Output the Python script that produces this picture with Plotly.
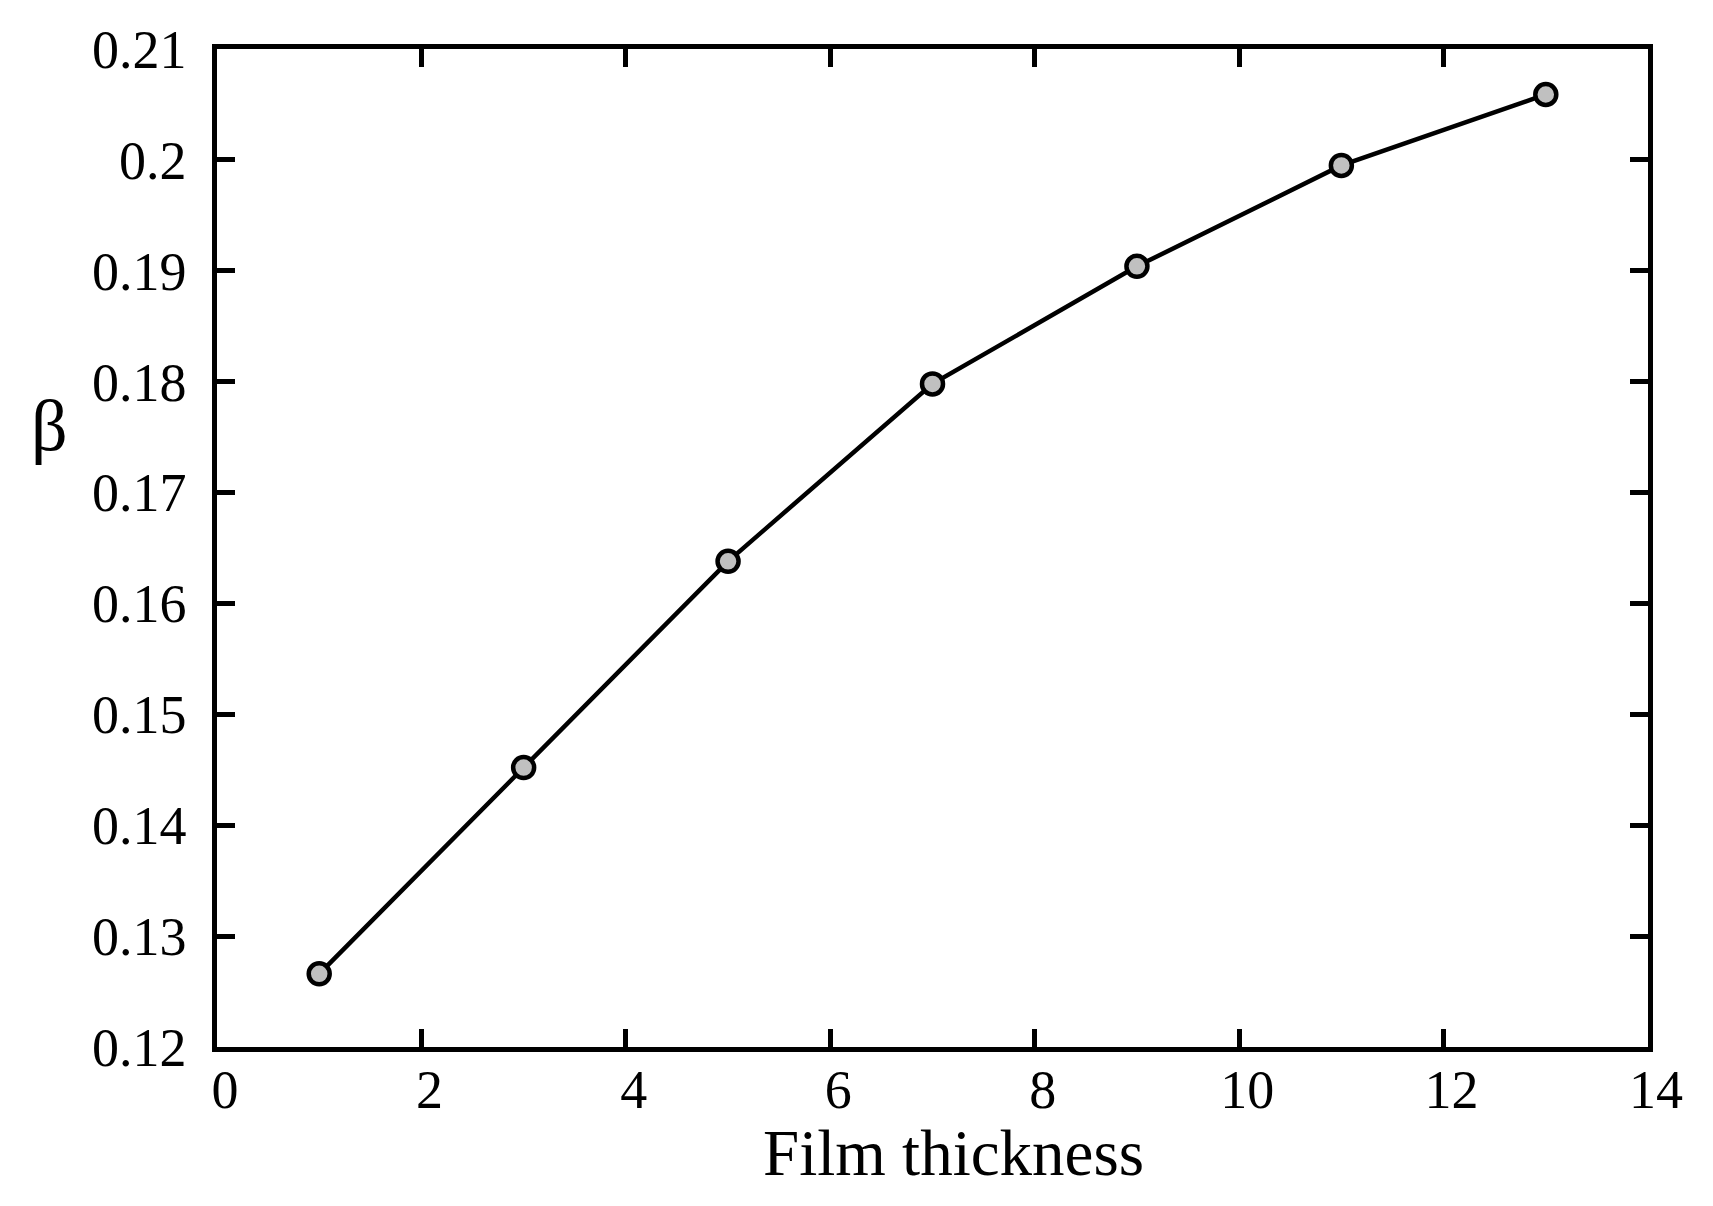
import plotly.graph_objects as go

thickness = [1, 3, 5, 7, 9, 11, 13]
beta = [0.1266, 0.1452, 0.1638, 0.1798, 0.1904, 0.1995, 0.2059]

x_ticks = [0, 2, 4, 6, 8, 10, 12, 14]
y_ticks = [0.12, 0.13, 0.14, 0.15, 0.16, 0.17, 0.18, 0.19, 0.2, 0.21]
y_tick_text = ["0.12", "0.13", "0.14", "0.15", "0.16", "0.17", "0.18", "0.19", "0.2", "0.21"]

serif = "Liberation Serif, Times New Roman, serif"

fig = go.Figure()
fig.add_trace(go.Scatter(
    x=thickness, y=beta, mode="lines+markers",
    line=dict(color="black", width=4.5),
    marker=dict(symbol="circle", size=21, color="#c0c0c0",
                line=dict(color="black", width=4.5)),
    showlegend=False,
))

axis_style = dict(
    showline=True, linecolor="black", linewidth=4.5, mirror="allticks",
    ticks="inside", ticklen=18, tickwidth=4.5, tickcolor="black",
    showgrid=False, zeroline=False,
    tickfont=dict(family=serif, size=54, color="black"),
)

fig.update_xaxes(range=[0, 14], tickvals=x_ticks, ticklabelshift=8,
                 ticklabelstandoff=-9, **axis_style)
fig.update_yaxes(range=[0.12, 0.21], tickvals=y_ticks, ticktext=y_tick_text,
                 ticklabelstandoff=15, **axis_style)

# axis titles as annotations (y title is upright in the original)
fig.add_annotation(text="Film thickness", xref="paper", yref="paper",
                   x=0.515, y=-0.068, xanchor="center", yanchor="top",
                   showarrow=False, font=dict(family=serif, size=65, color="black"))
fig.add_annotation(text="β", xref="paper", yref="paper",
                   x=-0.117, y=0.622, xanchor="center", yanchor="middle",
                   showarrow=False, font=dict(family=serif, size=72, color="black"))

# the page body adds an 8px margin, so pull the plot area back by that much
fig.update_layout(
    width=1713, height=1206,
    margin=dict(l=209, r=73, t=37, b=167),
    plot_bgcolor="white", paper_bgcolor="white",
)

fig.write_html("out.html")
